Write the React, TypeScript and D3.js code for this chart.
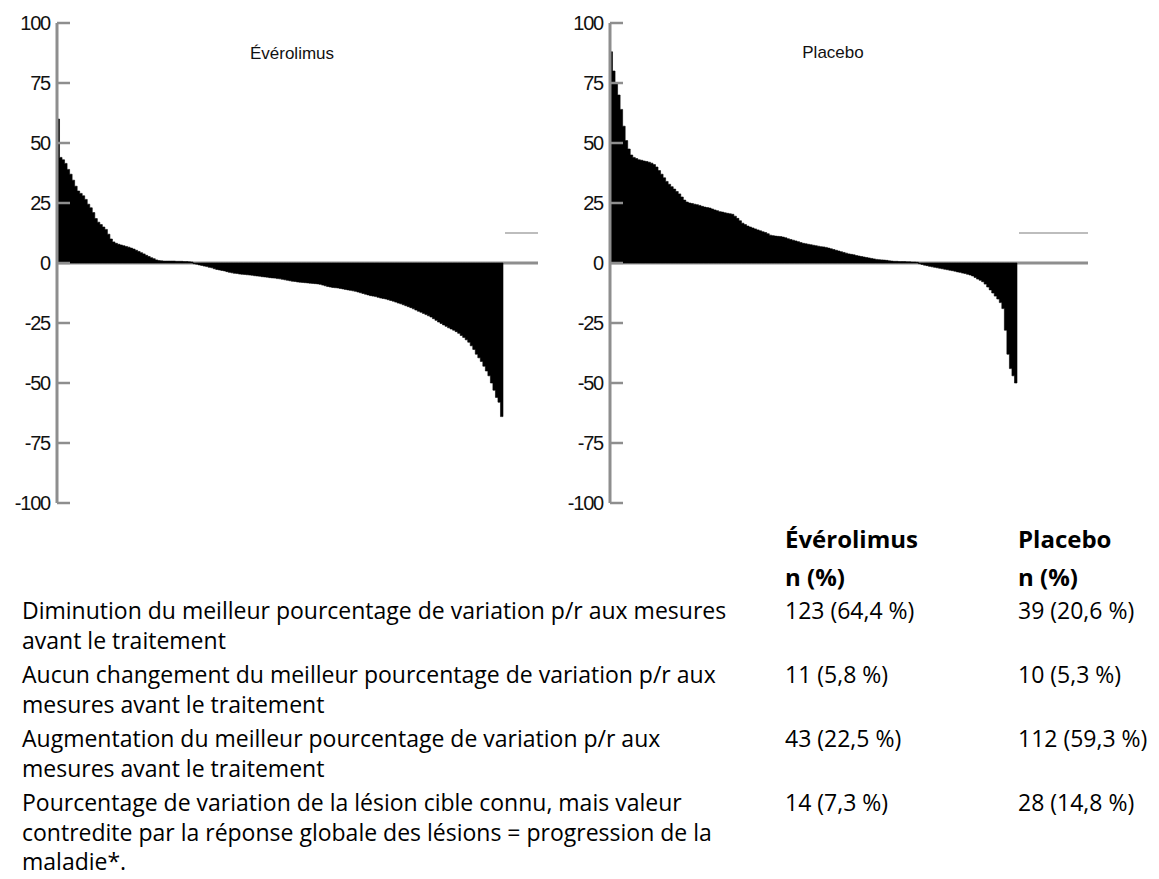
import React from "react";
import * as d3 from "d3";

// ---------- DATA ----------
const yTicks = [100, 75, 50, 25, 0, -25, -50, -75, -100];

// Évérolimus: best % change per patient, sorted (increase, no change, decrease)
const everolimusIncrease = [
  60, 44, 43, 41.5, 39, 37, 34.5, 32, 30, 29, 28, 26.5, 24.5, 23, 21, 18.5, 17, 16, 15, 14,
  12, 10, 8.8, 8.2, 7.8, 7.5, 7.2, 6.9, 6.6, 6.2, 5.8, 5.3, 4.8, 4.3, 3.8, 3.2, 2.7, 2.2, 1.8, 1.3,
  1.0, 0.9, 0.8,
];
const everolimusNoChange = [0.8, 0.8, 0.8, 0.8, 0.7, 0.7, 0.7, 0.6, 0.6, 0.5, 0.4];
const everolimusDecrease = [
  -0.3, -0.5, -0.8, -1.0, -1.3, -1.5, -1.8, -2.0, -2.4, -2.7, -2.9, -3.1, -3.3, -3.6, -3.9, -4.1,
  -4.3, -4.4, -4.6, -4.7, -4.8, -4.9, -5.0, -5.1, -5.3, -5.4, -5.5, -5.7, -5.8, -5.9, -6.1, -6.2,
  -6.3, -6.5, -6.6, -6.8, -7.0, -7.2, -7.4, -7.6, -7.7, -7.9, -8.0, -8.1, -8.2, -8.3, -8.4, -8.5,
  -8.6, -8.7, -8.9, -9.2, -9.5, -9.8, -10.0, -10.2, -10.3, -10.4, -10.6, -10.8, -11.0, -11.2, -11.4,
  -11.6, -11.8, -12.1, -12.4, -12.7, -13.0, -13.3, -13.6, -13.8, -14.0, -14.3, -14.6, -14.8, -15.0,
  -15.3, -15.6, -15.9, -16.3, -16.7, -17.0, -17.4, -17.8, -18.2, -18.6, -19.1, -19.6, -20.1, -20.5,
  -21.0, -21.5, -22.0, -22.5, -23.2, -23.9, -24.6, -25.2, -25.8, -26.4, -27.0, -27.5, -28.0, -28.6,
  -29.3, -30.2, -31.0, -32.0, -33.0, -34.5, -36.0, -38.0, -39.5, -41.0, -43.0, -45.0, -47.0, -50.0,
  -53.0, -56.0, -58.0, -64.0,
];

// Placebo
const placeboIncrease = [
  88, 80, 75, 70, 64, 57, 51, 47.5, 45, 44, 43.5, 43, 42.8, 42.5, 42.3, 42, 41.6, 41, 40, 38.5,
  37, 35.5, 34, 32.8, 31.8, 30.8, 29.8, 28.8, 27.5, 26.2, 25.4, 25, 24.8, 24.5, 24.3, 24, 23.6, 23.3,
  23.1, 22.9, 22.5, 22.1, 21.8, 21.4, 21.2, 20.9, 20.7, 20.5, 20.3, 19.5, 18.6, 17.6, 16.6, 16, 15.4,
  15, 14.6, 14.2, 13.8, 13.4, 13, 12.7, 12.2, 11.6, 11.4, 11.2, 11.1, 11, 10.8, 10.5, 10.1, 9.8, 9.5,
  9.2, 8.9, 8.5, 8.2, 8, 7.8, 7.6, 7.4, 7.2, 7, 6.8, 6.7, 6.5, 6.2, 5.9, 5.6, 5.3, 5, 4.7, 4.4, 4.1,
  3.8, 3.6, 3.4, 3.1, 2.9, 2.7, 2.5, 2.3, 2.1, 1.9, 1.7, 1.5, 1.4, 1.3, 1.2, 1.1, 0.9, 0.8,
];
const placeboNoChange = [0.7, 0.7, 0.6, 0.6, 0.6, 0.5, 0.5, 0.4, 0.4, 0.3];
const placeboDecrease = [
  -0.3, -0.6, -0.9, -1.1, -1.4, -1.6, -1.8, -2.0, -2.2, -2.4, -2.6, -2.8, -3.0, -3.2, -3.4, -3.7,
  -3.9, -4.2, -4.4, -4.7, -5.0, -5.4, -6.0, -6.7, -7.2, -7.8, -8.8, -10.0, -11.2, -12.5, -13.8, -15.0,
  -16.5, -19, -28, -38, -44, -47, -50,
];

const markerValue = 12.5;

const chartTitles = ["Évérolimus", "Placebo"];

const tableHeaders = [
  ["Évérolimus", "n (%)"],
  ["Placebo", "n (%)"],
];
const rowLabels = [
  ["Diminution du meilleur pourcentage de variation p/r aux mesures", "avant le traitement"],
  ["Aucun changement du meilleur pourcentage de variation p/r aux", "mesures avant le traitement"],
  ["Augmentation du meilleur pourcentage de variation p/r aux", "mesures avant le traitement"],
  [
    "Pourcentage de variation de la lésion cible connu, mais valeur",
    "contredite par la réponse globale des lésions = progression de la",
    "maladie*.",
  ],
];
const everolimusCounts = ["123 (64,4 %)", "11 (5,8 %)", "43 (22,5 %)", "14 (7,3 %)"];
const placeboCounts = ["39 (20,6 %)", "10 (5,3 %)", "112 (59,3 %)", "28 (14,8 %)"];

// ---------- LAYOUT ----------
const W = 1159;
const H = 879;
const Y_TOP = 23;
const Y_BOTTOM = 503;
const AXIS_COLOR = "#8e8e8e";
const MARKER_COLOR = "#bdbdbd";
const CHART_FONT = "'Liberation Sans', Arial, Helvetica, sans-serif";
const TABLE_FONT = "'Open Sans', 'Noto Sans', sans-serif";

const y = d3.scaleLinear().domain([-100, 100]).range([Y_BOTTOM, Y_TOP]);

type PanelProps = {
  values: number[];
  title: string;
  axisX: number;
  areaEnd: number;
  lineEnd: number;
  titleX: number;
  titleY: number;
};

function Panel({ values, title, axisX, areaEnd, lineEnd, titleX, titleY }: PanelProps) {
  const x = d3
    .scaleBand<number>()
    .domain(values.map((_, i) => i))
    .range([axisX, areaEnd])
    .padding(0);
  const pts: [number, number][] = values.map((v, i) => [x(i)!, v]);
  pts.push([areaEnd, values[values.length - 1]]);
  const area = d3
    .area<[number, number]>()
    .x((d) => d[0])
    .y0(y(0))
    .y1((d) => y(d[1]))
    .curve(d3.curveStepAfter);
  return (
    <g>
      {/* zero line */}
      <line x1={axisX} x2={lineEnd} y1={y(0)} y2={y(0)} stroke={AXIS_COLOR} strokeWidth={3} />
      {/* marker line */}
      <line
        x1={areaEnd + 2}
        x2={lineEnd}
        y1={y(markerValue)}
        y2={y(markerValue)}
        stroke={MARKER_COLOR}
        strokeWidth={2}
      />
      {/* bars as a stepped area */}
      <path d={area(pts) || ""} fill="#000" stroke="#000" strokeWidth={0.6} strokeLinejoin="round" />
      {/* y axis */}
      <line x1={axisX} x2={axisX} y1={y(100)} y2={y(-100)} stroke={AXIS_COLOR} strokeWidth={3} />
      {yTicks.map((t) => (
        <g key={t}>
          <line
            x1={axisX}
            x2={axisX + 13}
            y1={y(t)}
            y2={y(t)}
            stroke={AXIS_COLOR}
            strokeWidth={2.5}
          />
          <text
            x={axisX - 7}
            y={y(t)}
            dy="0.36em"
            textAnchor="end"
            fontFamily={CHART_FONT}
            fontSize={20}
            letterSpacing={-1.2}
            fill="#111"
          >
            {t}
          </text>
        </g>
      ))}
      <text
        x={titleX}
        y={titleY}
        dy="0.35em"
        textAnchor="middle"
        fontFamily={CHART_FONT}
        fontSize={17}
        fill="#111"
      >
        {title}
      </text>
    </g>
  );
}

export default function App() {
  const everolimus = [...everolimusIncrease, ...everolimusNoChange, ...everolimusDecrease];
  const placebo = [...placeboIncrease, ...placeboNoChange, ...placeboDecrease];

  const rowY = [611, 675, 739, 803];
  const lineStep = 29.5;
  const col1 = 785;
  const col2 = 1018;
  const labelX = 22;
  const tableSize = 23;

  return (
    <svg
      width={W}
      height={H}
      style={{ position: "absolute", left: 0, top: 0, background: "#fff" }}
    >
      <rect x={0} y={0} width={W} height={H} fill="#fff" />
      <Panel
        values={everolimus}
        title={chartTitles[0]}
        axisX={57}
        areaEnd={503}
        lineEnd={538}
        titleX={292}
        titleY={53}
      />
      <Panel
        values={placebo}
        title={chartTitles[1]}
        axisX={610}
        areaEnd={1017}
        lineEnd={1088}
        titleX={833}
        titleY={52}
      />

      {/* table headers */}
      {tableHeaders.map((h, ci) =>
        h.map((line, li) => (
          <text
            key={`${ci}-${li}`}
            x={ci === 0 ? col1 : col2}
            y={540 + li * 38}
            dy="0.35em"
            fontFamily={TABLE_FONT}
            fontWeight={700}
            fontSize={tableSize + 1}
            fill="#000"
          >
            {line}
          </text>
        ))
      )}

      {/* table rows */}
      {rowLabels.map((lines, ri) => (
        <g key={ri}>
          {lines.map((line, li) => (
            <text
              key={li}
              x={labelX}
              y={rowY[ri] + li * lineStep}
              dy="0.35em"
              fontFamily={TABLE_FONT}
              fontSize={tableSize}
              fill="#000"
            >
              {line}
            </text>
          ))}
          <text
            x={col1}
            y={rowY[ri]}
            dy="0.35em"
            fontFamily={TABLE_FONT}
            fontSize={tableSize}
            fill="#000"
          >
            {everolimusCounts[ri]}
          </text>
          <text
            x={col2}
            y={rowY[ri]}
            dy="0.35em"
            fontFamily={TABLE_FONT}
            fontSize={tableSize}
            fill="#000"
          >
            {placeboCounts[ri]}
          </text>
        </g>
      ))}
    </svg>
  );
}
